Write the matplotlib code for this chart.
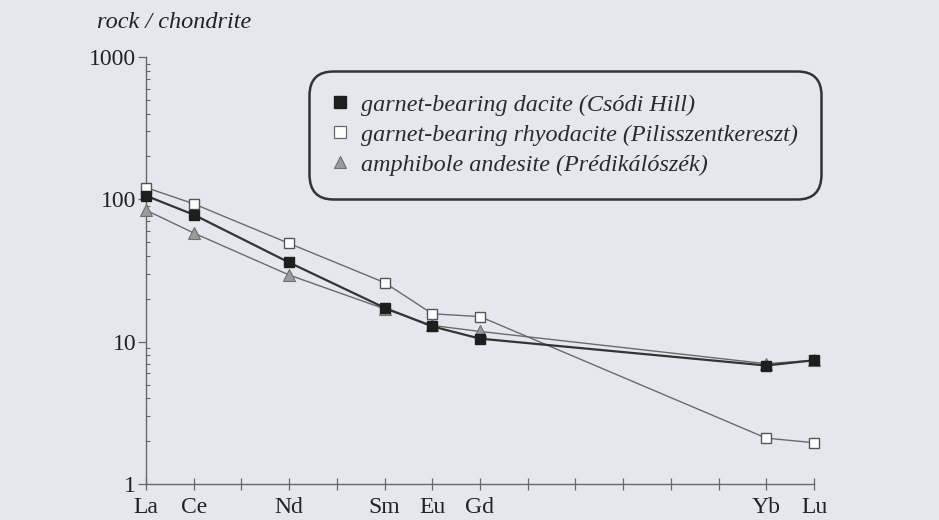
import matplotlib
matplotlib.use("Agg")
import matplotlib.pyplot as plt
from matplotlib.lines import Line2D
from matplotlib.ticker import LogLocator, NullFormatter, FixedLocator

plt.rcParams['font.family'] = ['Liberation Serif', 'DejaVu Serif']

# all REE positions (tick marks); labels only on analysed elements
ree_all = ["La", "Ce", "Pr", "Nd", "Pm", "Sm", "Eu", "Gd", "Tb", "Dy", "Ho", "Er", "Tm", "Yb", "Lu"]
tick_labels = ["La", "Ce", "", "Nd", "", "Sm", "Eu", "Gd", "", "", "", "", "", "Yb", "Lu"]
elements = ["La", "Ce", "Nd", "Sm", "Eu", "Gd", "Yb", "Lu"]

dacite = [106, 78, 36, 17.3, 12.8, 10.5, 6.8, 7.4]
rhyodacite = [121, 93, 49, 26, 15.7, 15.0, 2.1, 1.95]
andesite = [84, 58, 29.4, 17.0, 13.0, 11.8, 7.0, 7.4]

labels = ["garnet-bearing dacite (Csódi Hill)",
          "garnet-bearing rhyodacite (Pilisszentkereszt)",
          "amphibole andesite (Prédikálószék)"]

bg = '#e4e8ee'
fig = plt.figure(figsize=(9.39, 5.2), dpi=100, facecolor=bg)
ax = fig.add_axes([146/939, 1-484/520, (814-146)/939, (484-57)/520])
ax.set_facecolor(bg)

x = [ree_all.index(e) for e in elements]

ax.plot(x, rhyodacite, color='#6a6a6a', lw=1.0, marker='s', ms=7.5,
        mfc='white', mec='#555555', mew=1.0, zorder=3, clip_on=False)
ax.plot(x, andesite, color='#6a6a6a', lw=1.0, marker='^', ms=8,
        mfc='#9a9a9a', mec='#707070', mew=0.8, zorder=4, clip_on=False)
ax.plot(x, dacite, color='#333333', lw=1.6, marker='s', ms=7.5,
        mfc='#1e1e1e', mec='#1e1e1e', mew=1.0, zorder=5, clip_on=False)

ax.set_yscale('log')
ax.set_ylim(1, 1000)
ax.set_xlim(0, 14)

ax.set_xticks(range(len(ree_all)))
ax.set_xticklabels(tick_labels)
ax.yaxis.set_major_locator(FixedLocator([1, 10, 100, 1000]))
ax.set_yticklabels(["1", "10", "100", "1000"])
ax.yaxis.set_minor_locator(LogLocator(base=10, subs=range(2, 10)))
ax.yaxis.set_minor_formatter(NullFormatter())

for s in ['top', 'right']:
    ax.spines[s].set_visible(False)
for s in ['left', 'bottom']:
    ax.spines[s].set_color('#666666')
    ax.spines[s].set_linewidth(1.0)

ax.tick_params(axis='x', direction='inout', length=9, width=0.9, color='#666666',
               labelsize=17, pad=5, labelcolor='#222222')
ax.tick_params(axis='y', which='major', direction='out', length=6, width=0.9,
               color='#666666', labelsize=17, pad=1, labelcolor='#222222')
ax.tick_params(axis='y', which='minor', direction='in', length=3, width=0.8,
               color='#666666')

fig.text(97/939, 1-22/520, "rock / chondrite", fontsize=17.5, style='italic',
         ha='left', va='center', color='#222222')

handles = [
    Line2D([], [], ls='none', marker='s', ms=8, mfc='#1e1e1e', mec='#1e1e1e'),
    Line2D([], [], ls='none', marker='s', ms=8, mfc='white', mec='#666666', mew=0.9),
    Line2D([], [], ls='none', marker='^', ms=8.5, mfc='#9a9a9a', mec='#707070', mew=0.8),
]
leg = fig.legend(handles, labels, loc='upper left',
                 bbox_to_anchor=(309/939, 1-71/520),
                 prop={'family': 'Liberation Serif', 'style': 'italic', 'size': 17.4},
                 frameon=True, fancybox=True, facecolor=bg, edgecolor='#333333',
                 framealpha=1, borderpad=0.95, labelspacing=0.33, handlelength=0.7,
                 handletextpad=0.5, borderaxespad=0)
leg.get_frame().set_linewidth(1.8)
leg.get_frame().set_boxstyle('round,pad=0,rounding_size=1.0')
for t in leg.get_texts():
    t.set_color('#2a2a2a')

fig.savefig('out.png', dpi=100, facecolor=bg)
